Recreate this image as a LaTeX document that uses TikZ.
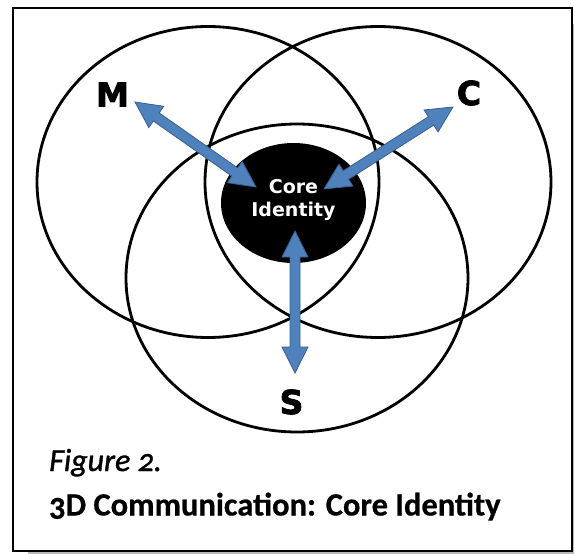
\documentclass[tikz,border=0pt]{standalone}
\usepackage{fontspec}
\usetikzlibrary{calc,shapes.geometric}
\newfontfamily\capfont[Numbers=OldStyle]{Carlito}
\newfontfamily\capit[Numbers=OldStyle,FakeBold=1.2]{Carlito Italic}
\newfontfamily\capbf[Numbers=OldStyle,FakeBold=0.6]{Carlito Bold}
\newfontfamily\dvsb{DejaVu Sans Bold}
\newfontfamily\heavyb[FakeBold=2.5]{DejaVu Sans Bold}
\definecolor{arrowfill}{HTML}{4F81BD}
\definecolor{arrowline}{HTML}{3A5F8F}
\tikzset{
  ring/.style={ellipse, draw=black, line width=2.8pt, inner sep=0pt, minimum width=#1},
  letter/.style={font=\heavyb\fontsize{33}{33}\selectfont, inner sep=0pt, anchor=base},
  coretext/.style={font=\dvsb\fontsize{19}{23}\selectfont, text=white, inner sep=0pt, anchor=base},
  arrowbody/.style={fill=arrowfill, draw=arrowline, line width=0.8pt, line join=miter},
  frame/.style={draw=black, line width=1.4pt},
}
\newcommand\dblarr[2]{%
  \coordinate (#1-#2-p) at ($(#1)!26pt!(#2)$);
  \coordinate (#1-#2-q) at ($(#2)!26pt!(#1)$);
  \draw[arrowbody] (#1)
    -- ($(#1-#2-p)!13pt!90:(#2)$) -- ($(#1-#2-p)!5pt!90:(#2)$)
    -- ($(#1-#2-q)!5pt!-90:(#1)$) -- ($(#1-#2-q)!13pt!-90:(#1)$)
    -- (#2)
    -- ($(#1-#2-q)!13pt!90:(#1)$) -- ($(#1-#2-q)!5pt!90:(#1)$)
    -- ($(#1-#2-p)!5pt!-90:(#2)$) -- ($(#1-#2-p)!13pt!-90:(#2)$)
    -- cycle;}
\begin{document}
\begin{tikzpicture}[x=1pt,y=-1pt]
\useasboundingbox (0,0) rectangle (574,554);
\fill[white] (0,0) rectangle (574,554);
% shadow and frame
\fill[gray!55] (28,551.5) rectangle (574,554);
\fill[gray!55] (572.5,24) rectangle (574,554);
\draw[frame] (13,8) rectangle (572,551);
% circles
\node[ring=342, minimum height=311] (Mc) at (208,182) {};
\node[ring=346, minimum height=311] (Cc) at (378,182) {};
\node[ring=342, minimum height=308] (Sc) at (297,278) {};
% core
\node[ellipse, fill=black, inner sep=0pt, minimum width=145, minimum height=120] (core) at (293.5,203) {};
\node[coretext] (core1) at (293.5,193.3) {Core};
\node[coretext] (core2) at (293.5,216.7) {Identity};
% labels
\node[letter] (M) at (112.5,106.5) {M};
\node[letter] (C) at (469,105) {C};
\node[letter] (S) at (291.5,414) {S};
% arrow ends
\coordinate (mtip) at (135,102);
\coordinate (mcore) at (256,187);
\coordinate (ctip) at (453,107);
\coordinate (ccore) at (324,189);
\coordinate (score) at (295,231);
\coordinate (stip) at (295,373);
\dblarr{mtip}{mcore}
\dblarr{ctip}{ccore}
\dblarr{score}{stip}
% caption
\node[font=\capit\fontsize{32}{32}\selectfont, inner sep=0pt, anchor=base west] (fig) at (49,471) {Figure 2.};
\node[font=\capbf\fontsize{32.5}{32.5}\selectfont, inner sep=0pt, anchor=base west] (title) at (49,515.5) {3D Communication: Core Identity};
\end{tikzpicture}
\end{document}
